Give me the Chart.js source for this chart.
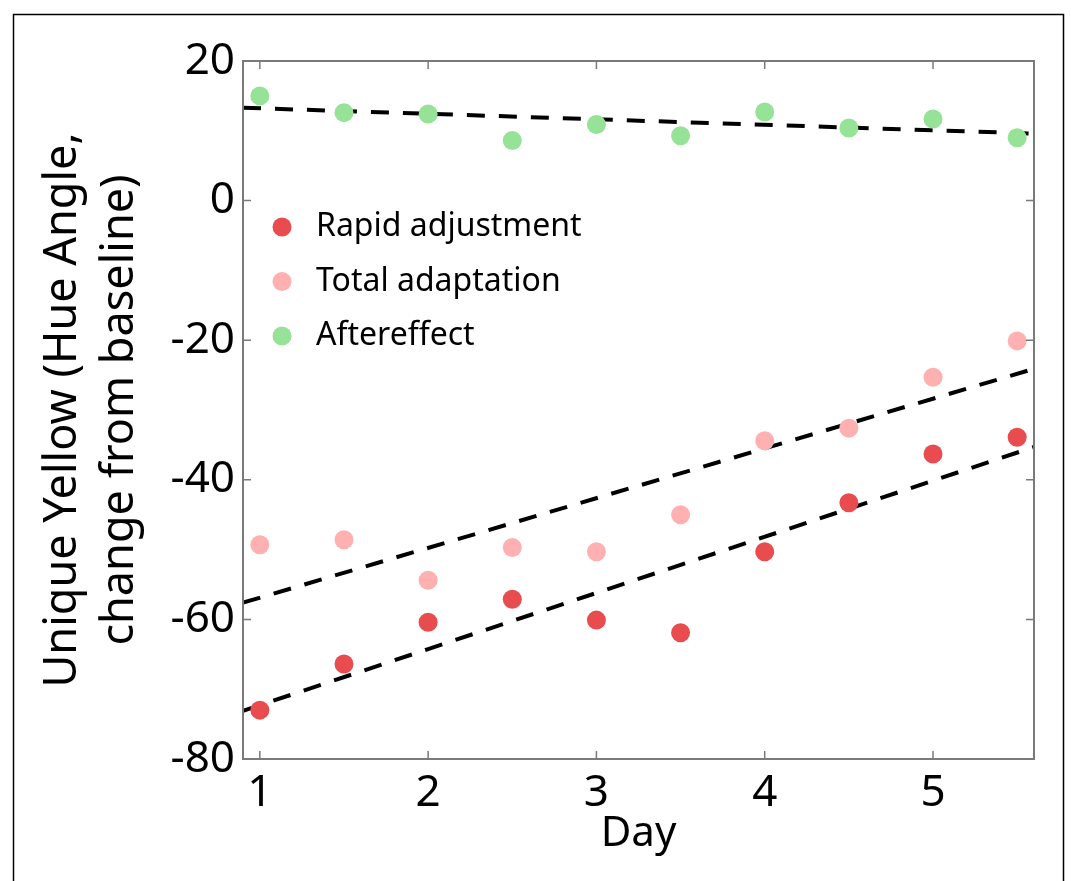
<!DOCTYPE html>
<html>
<head>
<meta charset="utf-8">
<script src="https://cdn.jsdelivr.net/npm/chart.js@4.4.1/dist/chart.umd.min.js"></script>
<style>
  html, body { margin: 0; padding: 0; background: #fff; }
  #wrap { width: 1071px; height: 881px; position: relative; }
  canvas { display: block; }
</style>
</head>
<body>
<div id="wrap"><canvas id="dayChart" width="1071" height="881"></canvas></div>
<script>
const FONT = '"Noto Sans", "Open Sans", sans-serif';

// Data
const days = [1, 1.5, 2, 2.5, 3, 3.5, 4, 4.5, 5, 5.5];
const rapidAdjustment = [-73.0, -66.4, -60.4, -57.1, -60.1, -61.9, -50.3, -43.3, -36.3, -33.9];
const totalAdaptation = [-49.3, -48.6, -54.4, -49.7, -50.3, -45.0, -34.4, -32.6, -25.3, -20.1];
const aftereffect = [15.0, 12.6, 12.4, 8.6, 10.9, 9.3, 12.7, 10.4, 11.7, 9.0];

// regression lines, ends at the axis limits
const fitDays = [0.9, 5.6];
const rapidFit = [-73.1, -35.3];
const totalFit = [-57.6, -24.1];
const afterFit = [13.3, 9.6];

const xTicks = [1, 2, 3, 4, 5];
const yTicks = [-80, -60, -40, -20, 0, 20];

const seriesLabels = ['Rapid adjustment', 'Total adaptation', 'Aftereffect'];
const seriesColors = ['#e84c4f', '#ffb0b0', '#96e296'];

const pts = (xs, ys) => xs.map((x, i) => ({ x: x, y: ys[i] }));

// box + inward ticks + outer frame + legend inside plot
const framePlugin = {
    id: 'frame',
    beforeDraw(chart) {
        const c = chart.ctx;
        c.save();
        c.strokeStyle = '#000';
        c.lineWidth = 1.5;
        c.beginPath();
        c.moveTo(13.5, 881); c.lineTo(13.5, 14.5); c.lineTo(1063.5, 14.5); c.lineTo(1063.5, 881);
        c.stroke();
        c.restore();
    },
    afterDraw(chart) {
        const c = chart.ctx;
        const a = chart.chartArea;
        const xs = chart.scales.x, ys = chart.scales.y;
        c.save();
        c.strokeStyle = '#7a7a7a';
        c.lineWidth = 2;
        c.strokeRect(a.left, a.top, a.right - a.left, a.bottom - a.top);
        c.lineWidth = 1.5;
        c.beginPath();
        xTicks.forEach(v => {
            const px = xs.getPixelForValue(v);
            c.moveTo(px, a.bottom); c.lineTo(px, a.bottom - 8);
            c.moveTo(px, a.top); c.lineTo(px, a.top + 8);
        });
        yTicks.forEach(v => {
            const py = ys.getPixelForValue(v);
            c.moveTo(a.left, py); c.lineTo(a.left + 8, py);
            c.moveTo(a.right, py); c.lineTo(a.right - 8, py);
        });
        c.stroke();

        // legend
        c.font = '32px ' + FONT;
        c.textBaseline = 'middle';
        seriesLabels.forEach((lab, i) => {
            const y = 227 + i * 54.5;
            c.beginPath();
            c.fillStyle = seriesColors[i];
            c.arc(282, y, 9.5, 0, Math.PI * 2);
            c.fill();
            c.fillStyle = '#000';
            c.fillText(lab, 316, y);
        });
        c.restore();
    }
};

function initChart() {
    const ctx = document.getElementById('dayChart').getContext('2d');
    const dash = { type: 'line', borderColor: '#000', borderWidth: 4, borderDash: [18, 14], pointRadius: 0, fill: false, order: 2 };
    new Chart(ctx, {
        type: 'scatter',
        data: {
            datasets: [
                { label: seriesLabels[0], data: pts(days, rapidAdjustment), backgroundColor: seriesColors[0], borderWidth: 0, pointRadius: 9.5, order: 1 },
                { label: seriesLabels[1], data: pts(days, totalAdaptation), backgroundColor: seriesColors[1], borderWidth: 0, pointRadius: 9.5, order: 1 },
                { label: seriesLabels[2], data: pts(days, aftereffect), backgroundColor: seriesColors[2], borderWidth: 0, pointRadius: 9.5, order: 1 },
                { ...dash, data: pts(fitDays, rapidFit) },
                { ...dash, data: pts(fitDays, totalFit) },
                { ...dash, data: pts(fitDays, afterFit) }
            ]
        },
        options: {
            responsive: false,
            animation: false,
            devicePixelRatio: 1,
            layout: { padding: { top: 61, right: 37, left: 0, bottom: 0 } },
            plugins: { legend: { display: false }, tooltip: { enabled: false } },
            scales: {
                x: {
                    type: 'linear', min: 0.9, max: 5.6,
                    afterBuildTicks: s => { s.ticks = xTicks.map(v => ({ value: v })); },
                    afterFit: s => { s.height = 122; },
                    grid: { display: false },
                    border: { display: false },
                    ticks: { color: '#000', font: { family: FONT, size: 44 }, padding: 0 },
                    title: { display: true, text: 'Day', color: '#000', font: { family: FONT, size: 42 }, padding: { top: 0, bottom: 22 } }
                },
                y: {
                    min: -80, max: 20,
                    afterBuildTicks: s => { s.ticks = yTicks.map(v => ({ value: v })); },
                    afterFit: s => { s.width = 243; },
                    grid: { display: false },
                    border: { display: false },
                    ticks: { color: '#000', font: { family: FONT, size: 44 }, padding: 0 },
                    title: { display: true, text: ['Unique Yellow (Hue Angle,', 'change from baseline)'], color: '#000', font: { family: FONT, size: 45, lineHeight: 1.28 }, padding: { top: 34, bottom: 0 } }
                }
            }
        },
        plugins: [framePlugin]
    });
}

document.addEventListener('DOMContentLoaded', initChart);
</script>
</body>
</html>
